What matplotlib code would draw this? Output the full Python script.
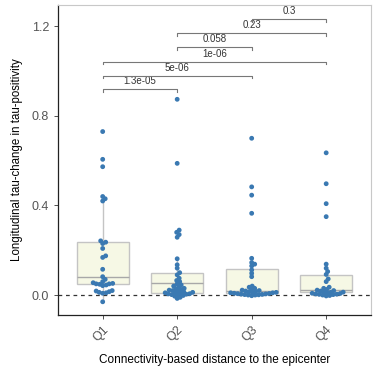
import numpy as np
import matplotlib
matplotlib.use("Agg")
import matplotlib.pyplot as plt

plt.rcParams['font.family'] = ['Liberation Sans', 'DejaVu Sans']

categories = ["Q1", "Q2", "Q3", "Q4"]

q1_vals = [0.73, 0.606, 0.573, 0.44, 0.43, 0.42, 0.242, 0.236, 0.23, 0.208, 0.175, 0.168,
           0.115, 0.082, 0.07, 0.06, 0.055, 0.052, 0.05, 0.05, 0.048, 0.045, 0.042,
           0.02, 0.018, 0.015, 0.012, 0.01, 0.008, -0.03]
q2_vals = [0.874, 0.588, 0.29, 0.28, 0.27, 0.258, 0.162, 0.135, 0.12, 0.10, 0.09, 0.075,
           0.065, 0.06, 0.05, 0.045, 0.04, 0.035, 0.03, 0.028, 0.025, 0.022, 0.02, 0.018,
           0.015, 0.012, 0.01, 0.01, 0.008, 0.006, 0.005, 0.004, 0.002, 0.0, -0.002,
           -0.005, -0.01, -0.015]
q3_vals = [0.70, 0.483, 0.446, 0.365, 0.164, 0.145, 0.138, 0.13, 0.112, 0.097, 0.082,
           0.04, 0.035, 0.03, 0.025, 0.022, 0.02, 0.018, 0.016, 0.015, 0.012, 0.011, 0.01,
           0.01, 0.008, 0.007, 0.006, 0.005, 0.004, 0.003, 0.002, 0.001, 0.0, 0.0, -0.003]
q4_vals = [0.635, 0.497, 0.408, 0.35, 0.138, 0.12, 0.105, 0.092, 0.072, 0.06, 0.035, 0.03,
           0.025, 0.022, 0.02, 0.018, 0.015, 0.013, 0.012, 0.01, 0.008, 0.007, 0.005,
           0.004, 0.003, 0.002, 0.0, -0.002, -0.004]
group_vals = [q1_vals, q2_vals, q3_vals, q4_vals]

# box statistics
box_whislo = [-0.03, -0.015, -0.003, -0.004]
box_q1 = [0.048, 0.010, 0.008, 0.012]
box_med = [0.082, 0.052, 0.019, 0.022]
box_q3 = [0.238, 0.100, 0.115, 0.089]
box_whishi = [0.44, 0.162, 0.164, 0.138]

# significance comparisons
comp_from = [1, 1, 1, 2, 2, 3]
comp_to = [2, 3, 4, 3, 4, 4]
comp_y = [0.918, 0.979, 1.042, 1.106, 1.168, 1.232]
comp_label = ["1.3e-05", "5e-06", "1e-06", "0.058", "0.23", "0.3"]

yticks = [0.0, 0.4, 0.8, 1.2]
ytick_labels = ["0.0", "0.4", "0.8", "1.2"]

fig = plt.figure(figsize=(3.80, 3.79), dpi=100)
ax = fig.add_axes([0.1526, 0.1689, 0.976 - 0.1526, 0.9868 - 0.1689])
ax.set_xlim(0.4, 4.6)
ax.set_ylim(-0.089, 1.295)

edge = '#c4c4c4'
fill = '#f6f8e5'
stats = []
for i in range(4):
    stats.append(dict(med=box_med[i], q1=box_q1[i], q3=box_q3[i],
                      whislo=box_whislo[i], whishi=box_whishi[i], fliers=[]))
ax.bxp(stats, positions=[1, 2, 3, 4], widths=0.7, patch_artist=True, showfliers=False,
       boxprops=dict(facecolor=fill, edgecolor=edge, linewidth=1.0),
       medianprops=dict(color='#a8a8a8', linewidth=1.0),
       whiskerprops=dict(color=edge, linewidth=1.0),
       capprops=dict(linewidth=0), manage_ticks=False, zorder=1)

ax.axhline(0, color='#333333', linestyle=(0, (3, 3)), linewidth=0.9, zorder=2)

# beeswarm layout in pixel space
fig.canvas.draw()
T = ax.transData
px_x = T.transform((1, 0))[0] - T.transform((0, 0))[0]
px_y = T.transform((0, 1))[1] - T.transform((0, 0))[1]
d = 3.2
for gi, vals in enumerate(group_vals):
    vals = np.sort(np.array(vals))
    ys = vals * px_y
    placed = []
    offs = []
    for y in ys:
        cands = [0.0]
        for k in range(1, 200):
            cands += [k * 0.5, -k * 0.5]
        for c in cands:
            ok = True
            for (px, py) in placed:
                if (px - c) ** 2 + (py - y) ** 2 < d * d:
                    ok = False
                    break
            if ok:
                placed.append((c, y))
                offs.append(c)
                break
    xs = (gi + 1) + np.array(offs) / px_x
    ax.scatter(xs, vals, s=12, color='#3a79b2', edgecolors='none', zorder=3)

# brackets
tip = 0.012
for a, b, y, lab in zip(comp_from, comp_to, comp_y, comp_label):
    ax.plot([a, a, b, b], [y - tip, y, y, y - tip], color='#777777', linewidth=0.8,
            zorder=4, clip_on=False)
    ax.text((a + b) / 2, y + 0.014, lab, ha='center', va='bottom', fontsize=7,
            color='#333333')

ax.set_yticks(yticks)
ax.set_yticklabels(ytick_labels)
ax.set_xticks([1, 2, 3, 4])
ax.set_xticklabels(categories, rotation=45, ha='right', va='top', rotation_mode='anchor')
ax.tick_params(axis='both', labelsize=9, labelcolor='#555555', color='#333333',
               length=3, width=0.6)
for side in ['top', 'right']:
    ax.spines[side].set_color('#c8c8c8')
    ax.spines[side].set_linewidth(0.8)
for side in ['left', 'bottom']:
    ax.spines[side].set_color('#222222')
    ax.spines[side].set_linewidth(0.9)

ax.set_xlabel("Connectivity-based distance to the epicenter", fontsize=8.5, labelpad=7)
ax.set_ylabel("Longitudinal tau-change in tau-positivity", fontsize=8.3, labelpad=6)

fig.savefig("out.png", dpi=100)
